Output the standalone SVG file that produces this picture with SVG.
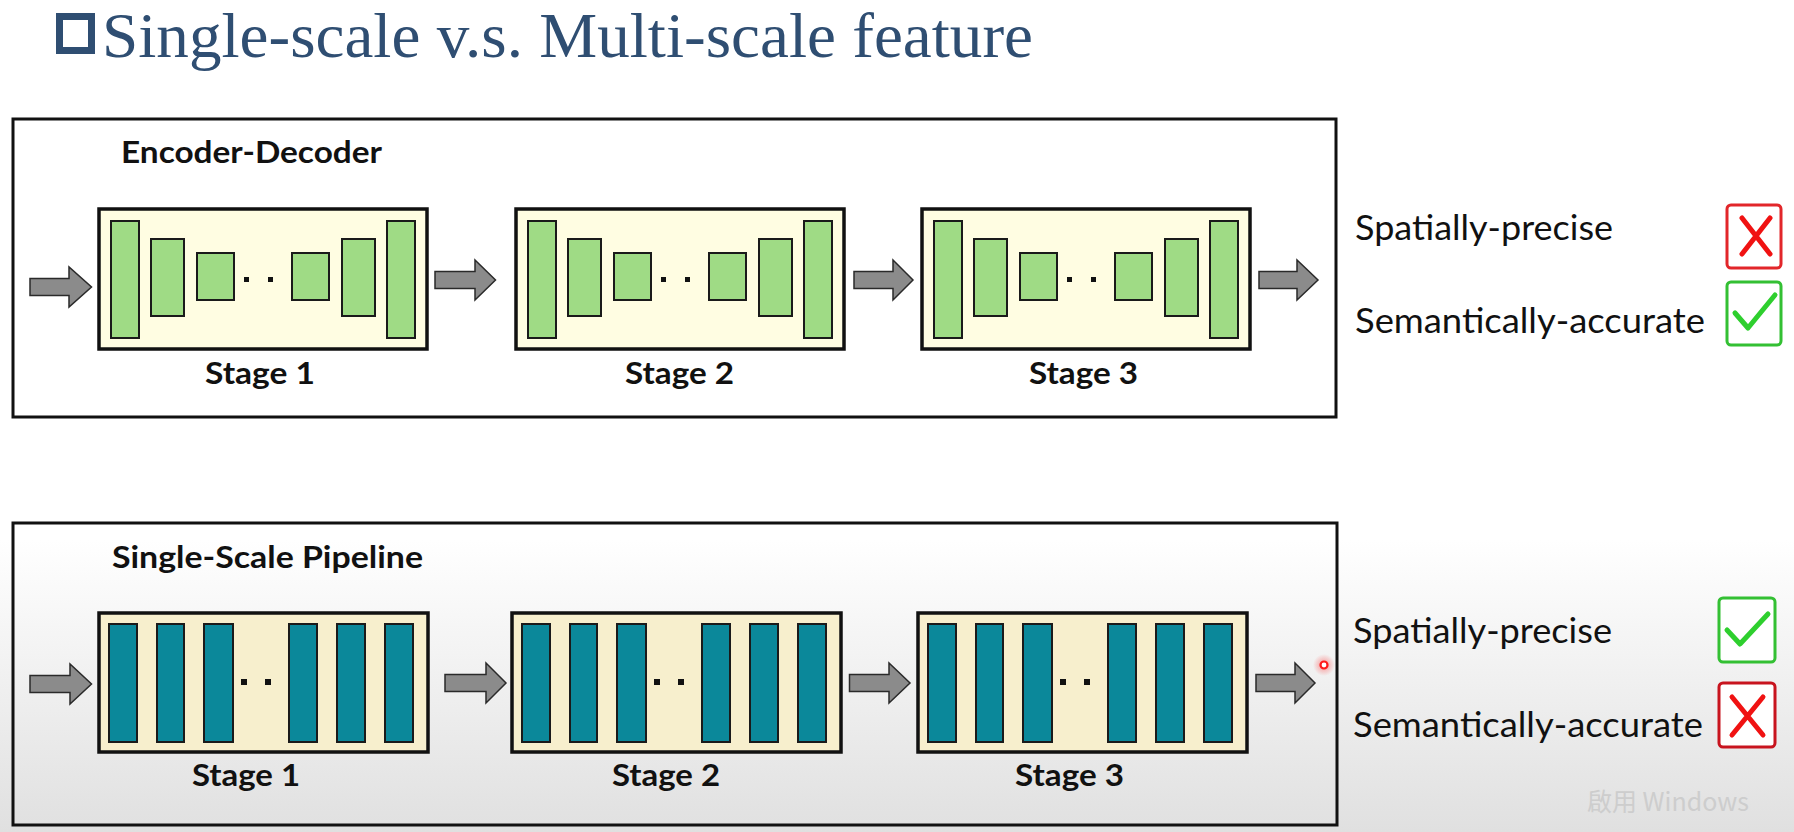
<svg xmlns="http://www.w3.org/2000/svg" xmlns:xlink="http://www.w3.org/1999/xlink" width="1794" height="832" viewBox="0 0 1794 832">
  <style>
    .frame { fill: none; stroke: #111; stroke-width: 3; }
    .stageTop { fill: #fffde2; stroke: #111; stroke-width: 3.5; }
    .stageBot { fill: #f7efcd; stroke: #111; stroke-width: 3.5; }
    .gbar { fill: #9fdb85; stroke: #1a1a1a; stroke-width: 2; }
    .tbar { fill: #0b889a; stroke: #1a1a1a; stroke-width: 2; }
    .dot { fill: #111; }
    .arrow { fill: #8b8b8b; stroke: #2a2a2a; stroke-width: 1.5; stroke-linejoin: miter; }
    .lbl { font-family: Lato, "Liberation Sans", sans-serif; font-weight: 700; font-size: 31px; fill: #111; }
    .prop { font-family: Lato, "Liberation Sans", sans-serif; font-weight: 400; font-size: 35px; fill: #111; }
    .title { font-family: "Liberation Serif", "Times New Roman", serif; font-size: 64px; fill: #2f4e72; }
    .xbox { fill: #fff; stroke-width: 3; }
    .xmark { fill: none; stroke: #f01212; stroke-width: 5; stroke-linecap: round; }
    .check { fill: none; stroke: #2ecf2e; stroke-width: 5; stroke-linecap: round; stroke-linejoin: round; }
  </style>
  <defs>
    <linearGradient id="bg" x1="0" y1="540" x2="0" y2="832" gradientUnits="userSpaceOnUse">
      <stop offset="0" stop-color="#ffffff"/>
      <stop offset="1" stop-color="#e0e0e0"/>
    </linearGradient>
    <radialGradient id="glow">
      <stop offset="0" stop-color="#ff3030" stop-opacity="0.5"/>
      <stop offset="1" stop-color="#ff3030" stop-opacity="0"/>
    </radialGradient>
    <g id="encBars">
      <rect class="gbar" x="12" y="12" width="28" height="117"/>
      <rect class="gbar" x="52" y="30" width="33" height="77"/>
      <rect class="gbar" x="98" y="44" width="37" height="47"/>
      <rect class="dot" x="145" y="68" width="5" height="5"/>
      <rect class="dot" x="169" y="68" width="5" height="5"/>
      <rect class="gbar" x="193" y="44" width="37" height="47"/>
      <rect class="gbar" x="243" y="30" width="33" height="77"/>
      <rect class="gbar" x="288" y="12" width="28" height="117"/>
    </g>
    <g id="ssBars">
      <rect class="tbar" x="10" y="11" width="28" height="118"/>
      <rect class="tbar" x="58" y="11" width="27" height="118"/>
      <rect class="tbar" x="105" y="11" width="29" height="118"/>
      <rect class="dot" x="142" y="66" width="6" height="6"/>
      <rect class="dot" x="166" y="66" width="6" height="6"/>
      <rect class="tbar" x="190" y="11" width="28" height="118"/>
      <rect class="tbar" x="238" y="11" width="28" height="118"/>
      <rect class="tbar" x="286" y="11" width="28" height="118"/>
    </g>
  </defs>

  <rect x="0" y="0" width="1794" height="832" fill="url(#bg)"/>

  <g id="title">
    <rect x="59.5" y="16.5" width="32" height="34" fill="#fff" stroke="#2f4e72" stroke-width="7"/>
    <text class="title" x="102" y="57" textLength="931" lengthAdjust="spacingAndGlyphs">Single-scale v.s. Multi-scale feature</text>
  </g>

  <!-- Encoder-Decoder panel -->
  <g id="panel-encoder-decoder">
    <rect class="frame" x="13" y="119" width="1323" height="298"/>
    <text class="lbl" x="121" y="163" textLength="261" lengthAdjust="spacingAndGlyphs">Encoder-Decoder</text>
  </g>
  <g id="enc-stage1">
    <rect class="stageTop" x="99" y="209" width="328" height="140"/>
    <use xlink:href="#encBars" x="99" y="209"/>
    <text class="lbl" x="205" y="384" textLength="110" lengthAdjust="spacingAndGlyphs">Stage 1</text>
  </g>
  <g id="enc-stage2">
    <rect class="stageTop" x="516" y="209" width="328" height="140"/>
    <use xlink:href="#encBars" x="516" y="209"/>
    <text class="lbl" x="625" y="384" textLength="109" lengthAdjust="spacingAndGlyphs">Stage 2</text>
  </g>
  <g id="enc-stage3">
    <rect class="stageTop" x="922" y="209" width="328" height="140"/>
    <use xlink:href="#encBars" x="922" y="209"/>
    <text class="lbl" x="1029" y="384" textLength="109" lengthAdjust="spacingAndGlyphs">Stage 3</text>
  </g>
  <g id="enc-properties">
    <text class="prop" x="1355" y="240" textLength="258" lengthAdjust="spacingAndGlyphs">Spatially-precise</text>
    <text class="prop" x="1355" y="333" textLength="350" lengthAdjust="spacingAndGlyphs">Semantically-accurate</text>
    <rect class="xbox" x="1727" y="205" width="54" height="63" rx="4" stroke="#e2262a"/>
    <path class="xmark" d="M1742,218 L1770,254 M1770,218 L1742,254"/>
    <rect class="xbox" x="1727" y="282" width="54" height="63" rx="4" stroke="#33c033"/>
    <path class="check" d="M1735,313 L1748,328 L1775,295"/>
  </g>

  <!-- Single-Scale panel -->
  <g id="panel-single-scale">
    <rect class="frame" x="13" y="523" width="1324" height="302"/>
    <text class="lbl" x="112" y="568" textLength="311" lengthAdjust="spacingAndGlyphs">Single-Scale Pipeline</text>
  </g>
  <g id="ss-stage1">
    <rect class="stageBot" x="99" y="613" width="329" height="139"/>
    <use xlink:href="#ssBars" x="99" y="613"/>
    <text class="lbl" x="192" y="786" textLength="108" lengthAdjust="spacingAndGlyphs">Stage 1</text>
  </g>
  <g id="ss-stage2">
    <rect class="stageBot" x="512" y="613" width="329" height="139"/>
    <use xlink:href="#ssBars" x="512" y="613"/>
    <text class="lbl" x="612" y="786" textLength="108" lengthAdjust="spacingAndGlyphs">Stage 2</text>
  </g>
  <g id="ss-stage3">
    <rect class="stageBot" x="918" y="613" width="329" height="139"/>
    <use xlink:href="#ssBars" x="918" y="613"/>
    <text class="lbl" x="1015" y="786" textLength="109" lengthAdjust="spacingAndGlyphs">Stage 3</text>
  </g>
  <g id="ss-properties">
    <text class="prop" x="1353" y="643" textLength="259" lengthAdjust="spacingAndGlyphs">Spatially-precise</text>
    <text class="prop" x="1353" y="737" textLength="350" lengthAdjust="spacingAndGlyphs">Semantically-accurate</text>
    <rect class="xbox" x="1719" y="598" width="56" height="64" rx="4" stroke="#33c033"/>
    <path class="check" d="M1727,630 L1740,644 L1768,614"/>
    <rect class="xbox" x="1719" y="683" width="56" height="64" rx="4" stroke="#c8141e"/>
    <path class="xmark" d="M1732,697 L1763,735 M1763,697 L1732,735"/>
  </g>

  <!-- connectors -->
  <g id="connectors">
    <path class="arrow" d="M30,278.5 L69,278.5 L69,267 L91.5,287 L69,307 L69,295.5 L30,295.5 Z"/>
    <path class="arrow" d="M435,271.5 L475,271.5 L475,260 L495.5,280 L475,300 L475,288.5 L435,288.5 Z"/>
    <path class="arrow" d="M854,271.5 L893,271.5 L893,260 L913,280 L893,300 L893,288.5 L854,288.5 Z"/>
    <path class="arrow" d="M1259,271.5 L1297,271.5 L1297,260 L1318,280 L1297,300 L1297,288.5 L1259,288.5 Z"/>

    <path class="arrow" d="M30,675.5 L70,675.5 L70,664 L91.5,684 L70,704 L70,692.5 L30,692.5 Z"/>
    <path class="arrow" d="M445,674.5 L486,674.5 L486,663 L506,683 L486,703 L486,691.5 L445,691.5 Z"/>
    <path class="arrow" d="M849.5,674.5 L889,674.5 L889,663 L910,683 L889,703 L889,691.5 L849.5,691.5 Z"/>
    <path class="arrow" d="M1256,674.5 L1295,674.5 L1295,663 L1315,683 L1295,703 L1295,691.5 L1256,691.5 Z"/>
  </g>

  <!-- pointer dot and watermark from the screenshot -->
  <circle cx="1324" cy="665" r="11" fill="url(#glow)"/>
  <circle cx="1324" cy="665" r="3.5" fill="#fff" stroke="#ff1a1a" stroke-width="2.2"/>
  <text x="1587" y="811" font-family="'Noto Sans CJK TC', 'Noto Sans', sans-serif" font-size="25" fill="#cdcdcd">啟用 Windows</text>
</svg>
